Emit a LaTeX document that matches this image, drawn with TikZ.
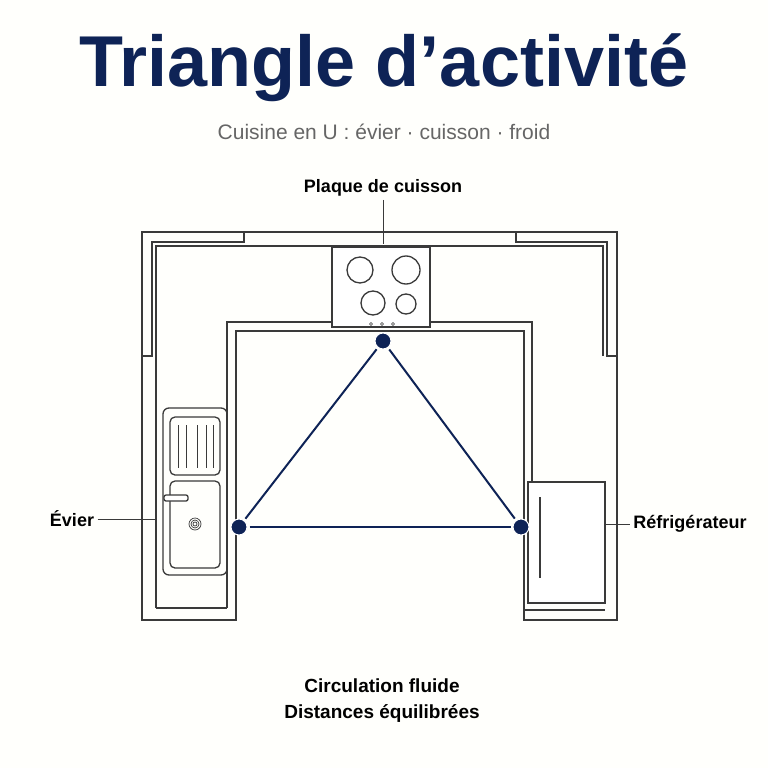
\documentclass[tikz,border=0pt]{standalone}
\usepackage{fontspec}
\setmainfont{Liberation Sans}
\definecolor{navy}{HTML}{0E2356}
\definecolor{plan}{HTML}{3A3A3A}
\begin{document}
\begin{tikzpicture}[x=1pt, y=-1pt,
    wall/.style={plan, line width=1.3pt},
    leader/.style={plan, line width=0.8pt},
    label/.style={font=\bfseries\fontsize{18}{21}\selectfont, text=black},
    spot/.style={circle, fill=navy, draw=white, line width=1pt, inner sep=0pt, minimum size=16pt}]
    \fill[white!97!yellow!40](0, 0)rectangle(768, 768);
    \useasboundingbox(0, 0)rectangle(768, 768);
    % titres
    \node(title)at(384, 68){\fontsize{72}{78}\selectfont\bfseries\color{navy}Triangle d’activité};
    \node(sub)at(384, 132){\fontsize{21}{24}\selectfont\color{gray!80!black}Cuisine en U : évier · cuisson · froid};
    % murs et plans de travail
    \draw[wall](142, 232)--(617, 232)--(617, 620)--(524, 620)--(524, 331)--(236, 331)--(236, 620)--(142, 620)--cycle;
    \draw[wall](227, 608)--(227, 322)--(532, 322)--(532, 482);
    \draw[wall](142, 356)--(152, 356)--(152, 242)--(244, 242)--(244, 232);
    \draw[wall](617, 356)--(607, 356)--(607, 242)--(516, 242)--(516, 232);
    \draw[wall](156, 608)--(156, 246)--(603, 246)--(603, 356);
    \draw[wall](156, 608)--(227, 608);
    % plaque
    \draw[wall, fill=white](332, 247)rectangle(430, 327);
    \foreach \x/\y/\r in {360/270/13, 406/270/14, 373/303/12, 406/304/10}
        \draw[wall](\x, \y)circle(\r);
    \foreach \x in {371, 382, 393}
        \draw[plan, line width=0.6pt](\x, 324)circle(1.5);
    % evier
    \draw[wall, rounded corners=6](163, 408)rectangle(227, 575);
    \draw[wall, rounded corners=5](170, 417)rectangle(220, 475);
    \foreach \x in {178, 186, 197, 206, 213}
        \draw[plan, line width=0.9pt](\x, 425)--(\x, 468);
    \draw[wall, rounded corners=5](170, 481)rectangle(220, 568);
    \draw[wall, fill=white, rounded corners=2](164, 495)rectangle(188, 501);
    \foreach \r in {2, 4, 6}
        \draw[plan, line width=0.7pt](195, 524)circle(\r);
    % refrigerateur
    \draw[wall](524, 610)--(605, 610);
    \draw[wall, fill=white](528, 482)rectangle(605, 603);
    \draw[wall](540, 497)--(540, 578);
    % triangle
    \node[spot](cook)at(383, 341){};
    \node[spot](sink)at(239, 527){};
    \node[spot](fridge)at(521, 527){};
    \draw[navy, line width=2pt, shorten <=2pt, shorten >=2pt](cook)--(sink);
    \draw[navy, line width=2pt, shorten <=2pt, shorten >=2pt](sink)--(fridge);
    \draw[navy, line width=2pt, shorten <=2pt, shorten >=2pt](fridge)--(cook);
    % etiquettes
    \node[label](lcook)at(383, 188){Plaque de cuisson};
    \node[label](lsink)at(72, 519){Évier};
    \node[label](lfridge)at(690, 524){Réfrigérateur};
    \coordinate(pcook)at(383, 244);
    \coordinate(psink)at(156, 519);
    \coordinate(pfridge)at(605, 524);
    \draw[leader](lcook)--(pcook);
    \draw[leader](lsink)--(psink);
    \draw[leader](lfridge)--(pfridge);
    \node[label, font=\bfseries\fontsize{19}{26}\selectfont](note)at(382, 700){\begin{tabular}{c}Circulation fluide\\Distances équilibrées\end{tabular}};
\end{tikzpicture}
\end{document}
